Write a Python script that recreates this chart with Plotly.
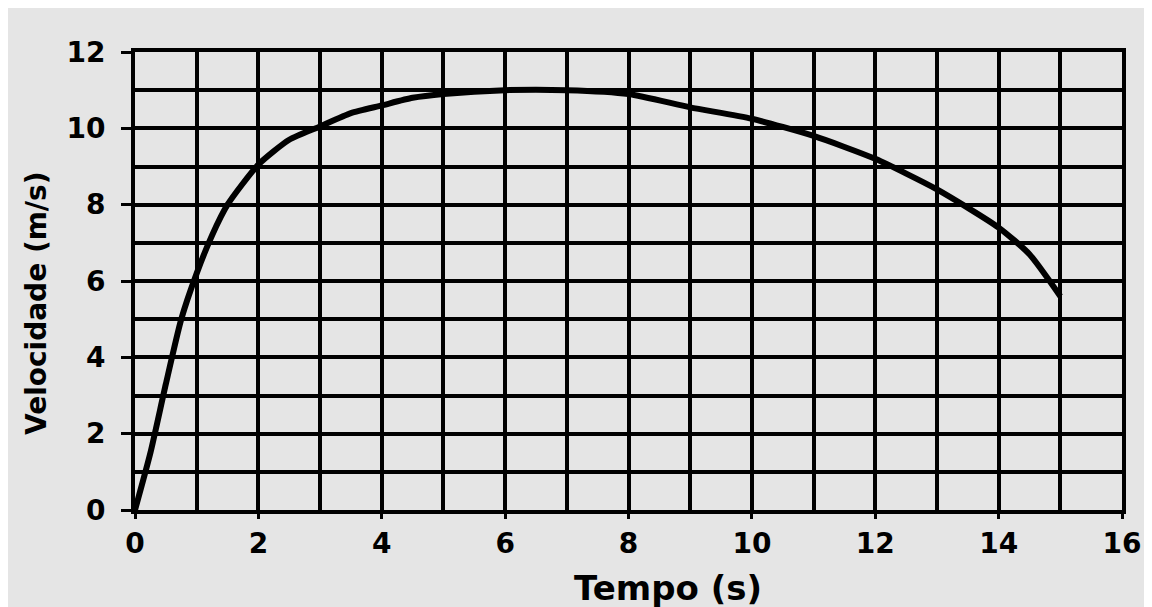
import plotly.graph_objects as go

# tempo (s) e velocidade (m/s)
tempo = [0, 0.25, 0.5, 0.75, 1.0, 1.25, 1.5, 2, 2.5, 3, 3.5, 4, 4.5, 5,
         6, 7, 8, 9, 10, 11, 12, 13, 14, 14.5, 15]
velocidade = [0, 1.5, 3.3, 5.0, 6.2, 7.2, 8.0, 9.05, 9.7, 10.05, 10.4, 10.6,
              10.8, 10.9, 11.0, 11.0, 10.9, 10.55, 10.25, 9.8, 9.2, 8.4,
              7.4, 6.7, 5.6]

x_ticks = [0, 2, 4, 6, 8, 10, 12, 14, 16]
y_ticks = [0, 2, 4, 6, 8, 10, 12]

bg = "#e5e5e5"
fonte = "DejaVu Sans"

fig = go.Figure()

fig.add_trace(
    go.Scatter(
        x=tempo,
        y=velocidade,
        mode="lines",
        line=dict(color="black", width=6, shape="spline", smoothing=0.6),
        showlegend=False,
        hoverinfo="skip",
    )
)

eixo = dict(
    showgrid=True,
    gridcolor="black",
    gridwidth=4,
    showline=True,
    linecolor="black",
    linewidth=4,
    mirror=True,
    zeroline=False,
    ticks="outside",
    tickcolor="black",
    tickwidth=3,
    tickfont=dict(family=fonte, size=28, color="black", weight="bold"),
    minor=dict(dtick=1, showgrid=True, gridcolor="black", gridwidth=4),
)

fig.update_xaxes(
    range=[0, 16], tickvals=x_ticks, ticklen=5, ticklabelstandoff=0, **eixo
)
fig.update_yaxes(
    range=[0, 12], tickvals=y_ticks, ticklen=10, ticklabelstandoff=10, **eixo
)

fig.add_annotation(
    text="Tempo (s)", xref="paper", yref="paper",
    x=0.54, y=-0.17, xanchor="center", yanchor="middle", showarrow=False,
    font=dict(family=fonte, size=34, color="black", weight="bold"),
)
fig.add_annotation(
    text="Velocidade (m/s)", xref="paper", yref="paper",
    x=-0.0993, y=0.452, xanchor="center", yanchor="middle",
    textangle=-90, showarrow=False,
    font=dict(family=fonte, size=28, color="black", weight="bold"),
)

# a página deixa 8 px brancos em cima e à esquerda; o cinza vai até a borda direita
fig.update_layout(
    width=1152,
    height=599,
    margin=dict(l=127, r=38, t=44, b=97),
    paper_bgcolor=bg,
    plot_bgcolor=bg,
)

fig.write_html(
    "out.html",
    post_script="document.body.style.overflow = 'hidden';",
)
